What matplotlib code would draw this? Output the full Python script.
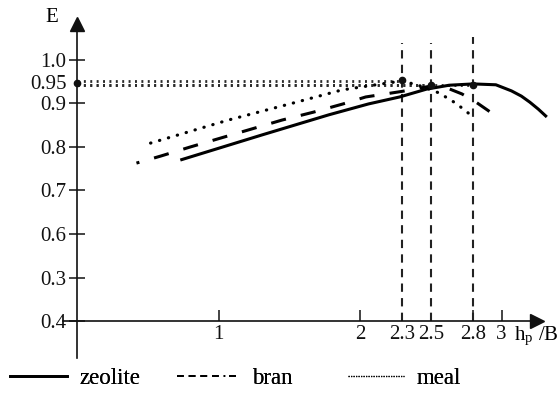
import matplotlib
matplotlib.use('Agg')
import matplotlib.pyplot as plt
from matplotlib.lines import Line2D

plt.rcParams['font.family'] = 'serif'
plt.rcParams['font.serif'] = ['Liberation Serif', 'STIXGeneral', 'DejaVu Serif']
plt.rcParams['mathtext.fontset'] = 'stix'

# ---- data ----
zeolite_x = [0.73, 1.31, 1.78, 2.06, 2.28, 2.47, 2.63, 2.80, 2.96, 3.07, 3.14, 3.20, 3.26, 3.32]
zeolite_e = [0.770, 0.828, 0.874, 0.899, 0.915, 0.933, 0.942, 0.945, 0.943, 0.929, 0.917, 0.903, 0.887, 0.869]

bran_x = [0.42, 0.59, 0.80, 1.02, 1.23, 1.45, 1.67, 1.88, 2.04, 2.30, 2.50, 2.62, 2.72, 2.82, 2.90, 3.00]
bran_e = [0.763, 0.779, 0.800, 0.821, 0.841, 0.862, 0.880, 0.899, 0.915, 0.928, 0.940, 0.935, 0.922, 0.903, 0.885, 0.862]

meal_x = [0.52, 1.07, 1.55, 1.87, 2.05, 2.30, 2.45, 2.56, 2.68, 2.80]
meal_e = [0.809, 0.862, 0.903, 0.931, 0.940, 0.952, 0.938, 0.924, 0.900, 0.869]

peak_x = [2.3, 2.5, 2.8]          # optimum h_p/B for meal, bran, zeolite
peak_e = [0.952, 0.943, 0.943]
dot_e = [0.955, 0.943, 0.943]
vline_top = [1.039, 1.039, 1.053]

ytick_vals = [0.4, 0.5, 0.6, 0.7, 0.8, 0.9, 1.0]
ytick_labels = ['0.4', '0.3', '0.6', '0.7', '0.8', '0.9', '1.0']
yminor_vals = [0.95]
yminor_labels = ['0.95']
xtick_vals = [1, 2, 2.8, 3]
xtick_labels = ['1', '2', '2.8', '3']
xminor_vals = [2.3, 2.5]
xminor_labels = ['2.3', '2.5']

series_names = ['zeolite', 'bran', 'meal']

# ---- figure ----
W, H = 557, 396
fig = plt.figure(figsize=(W / 100, H / 100), dpi=100)
ax = fig.add_axes([0, 0, 1, 1])
ax.patch.set_alpha(0)
ax.set_xlim(-0.5442, 3.392)
ax.set_ylim(0.2276, 1.1379)

for s in ['top', 'right']:
    ax.spines[s].set_visible(False)
ax.spines['left'].set_position(('data', 0))
ax.spines['bottom'].set_position(('data', 0.4))
ax.spines['left'].set_bounds(0.315, 1.08)
ax.spines['bottom'].set_bounds(-0.099, 3.25)
for s in ['left', 'bottom']:
    ax.spines[s].set_linewidth(1.2)
    ax.spines[s].set_color('#111111')

# arrow heads
ax.plot([0], [1.083], marker='^', ms=10, color='#111111', clip_on=False, zorder=5)
ax.plot([3.248], [0.4], marker='>', ms=10, color='#111111', clip_on=False, zorder=5)

FS = 15
ax.set_yticks(ytick_vals)
ax.set_yticklabels(ytick_labels, fontsize=FS)
ax.set_yticks(yminor_vals, minor=True)
ax.set_yticklabels(yminor_labels, minor=True, fontsize=FS)
ax.set_xticks(xtick_vals)
ax.set_xticklabels(xtick_labels, fontsize=FS)
ax.set_xticks(xminor_vals, minor=True)
ax.set_xticklabels(xminor_labels, minor=True, fontsize=FS)
ax.tick_params(axis='y', which='major', direction='inout', length=11, width=1.1, pad=2, colors='#111111')
ax.tick_params(axis='y', which='minor', length=0, pad=7.5, colors='#111111')
ax.tick_params(axis='x', which='major', direction='in', length=8, width=1.1, pad=3, colors='#111111')
ax.tick_params(axis='x', which='minor', length=0, pad=3, colors='#111111')

# reference lines
for px, pe, top in zip(peak_x, peak_e, vline_top):
    ax.plot([px, px], [0.4, top], color='#222222', lw=1.5, linestyle=(0, (4, 3)), zorder=2)
    ax.plot([0, px], [pe, pe], color='#2a2a2a', lw=2.0, linestyle=(0, (0.7, 1.6)), zorder=2)
ax.plot(peak_x, dot_e, 'o', color='#111111', ms=4.5, zorder=4)
ax.plot([0], [0.946], 'o', color='#111111', ms=4.5, zorder=4)

# curves
l1, = ax.plot(zeolite_x, zeolite_e, color='black', lw=2.2, solid_capstyle='butt', zorder=3)
l2, = ax.plot(bran_x, bran_e, color='black', lw=2.2, linestyle=(4.0, (5, 5)), zorder=3)
l3, = ax.plot(meal_x, meal_e, color='black', lw=2.3, linestyle=(0, (0.1, 2.8)),
              dash_capstyle='round', zorder=3)

# axis labels
ax.text(-0.18, 1.097, 'E', fontsize=FS, ha='center', va='center')
ax.text(3.085, 0.365, r'h$_\mathregular{p}$ /B', fontsize=FS, ha='left', va='center')

# legend
h1 = Line2D([], [], color='black', lw=2.0)
h2 = Line2D([], [], color='black', lw=1.4, linestyle=(0, (3.5, 2.5, 3.5, 2.5, 3.5, 2.5, 3.5, 2.5, 0.8, 2)))
h3 = Line2D([], [], color='black', lw=0.9, linestyle=(0, (1, 1)))
handles = [h1, h2, h3]
anchors = [(10 / W, 1 - 378 / H), (177 / W, 1 - 378 / H), (348 / W, 1 - 378 / H)]
hlen = [57, 62, 56]
for h, name, anc, hl in zip(handles, series_names, anchors, hlen):
    lg = fig.legend([h], [name], loc='center left', bbox_to_anchor=anc, frameon=False,
                    fontsize=16.5, handlelength=hl / 22.9, handletextpad=0.55,
                    borderpad=0, borderaxespad=0)
    fig.add_artist(lg)

fig.savefig('out.png', dpi=100)
